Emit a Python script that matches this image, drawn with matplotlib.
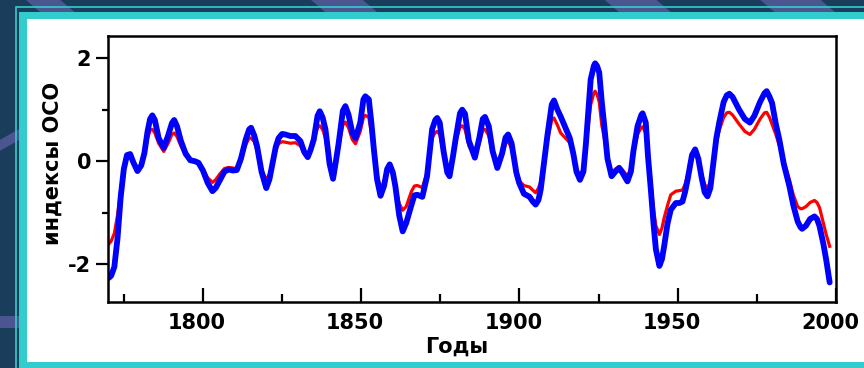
import matplotlib
matplotlib.use("Agg")
import matplotlib.pyplot as plt
import matplotlib.transforms as mtransforms
from matplotlib.patches import Rectangle, Polygon
from matplotlib.ticker import MultipleLocator

# values
years = [1770.3, 1771, 1772, 1773, 1774, 1775, 1776, 1777, 1778, 1779.3,
         1780.5, 1781.5, 1782.5, 1783.3, 1784.0, 1784.8, 1786, 1787.6, 1789, 1790.2,
         1790.9, 1791.8, 1793, 1794.5, 1796, 1797.5, 1798.6, 1800, 1801.5, 1803,
         1804, 1805.4, 1806.8, 1808.1, 1809.5, 1810.7, 1812, 1813.5, 1814.6, 1815.2,
         1816.2, 1817.1, 1818.5, 1820.0, 1821, 1821.8, 1823, 1823.9, 1825, 1826,
         1827.6, 1829.2, 1830.8, 1832, 1833.1, 1834, 1835.0, 1836.2, 1836.9, 1837.8,
         1838.7, 1840, 1841.1, 1842, 1842.9, 1844.2, 1845.0, 1846, 1847.2, 1848.2,
         1849.7, 1850.7, 1851.3, 1852.4, 1853.2, 1854.0, 1855, 1856.1, 1857.2, 1858.2,
         1859.0, 1860, 1860.8, 1862, 1863.1, 1864.2, 1865.9, 1866.8, 1867.7, 1869.3,
         1870.8, 1872.4, 1873.4, 1874.0, 1874.8, 1876, 1877.2, 1877.9, 1879, 1879.8,
         1881.2, 1881.9, 1882.8, 1884, 1885.9, 1887.3, 1888.4, 1889.1, 1890.3, 1891.5,
         1893.0, 1894.5, 1895.6, 1896.4, 1897.5, 1899, 1899.9, 1901.4, 1903.2, 1904.2,
         1905.1, 1906, 1906.7, 1908, 1908.8, 1910.2, 1910.9, 1912, 1913.0, 1914.5,
         1915.9, 1917, 1918, 1919.1, 1920.2, 1921, 1922.5, 1923.5, 1923.9, 1924.5,
         1925.2, 1926, 1926.8, 1927.8, 1929.1, 1930.3, 1931.5, 1932.6, 1934.1, 1935.2,
         1936, 1937.3, 1938.5, 1938.9, 1939.9, 1940.6, 1941.5, 1942.4, 1943.1, 1944.2,
         1945, 1945.7, 1946.8, 1947.8, 1949.4, 1950.5, 1951.5, 1952.3, 1953.1, 1954.5,
         1955.5, 1956.5, 1957.5, 1958.5, 1959.4, 1960.3, 1961.3, 1962.2, 1963.1, 1964.5,
         1965.5, 1966.3, 1967.3, 1969.4, 1971.2, 1972.8, 1974.2, 1976, 1977.4, 1978.1,
         1979, 1979.8, 1981, 1982.1, 1983.5, 1985.3, 1986.5, 1987.9, 1988.8, 1989.3,
         1990.5, 1991.8, 1993.2, 1994, 1994.8, 1996, 1996.9, 1998.0]

oso_red = [-1.60, -1.55, -1.40, -1.05, -0.55, -0.15, 0.10, 0.12, -0.02, -0.18,
           -0.10, 0.14, 0.45, 0.60, 0.62, 0.55, 0.35, 0.19, 0.35, 0.52,
           0.55, 0.48, 0.30, 0.12, 0.02, 0.00, -0.02, -0.15, -0.32, -0.41,
           -0.36, -0.24, -0.14, -0.12, -0.13, -0.15, 0.05, 0.32, 0.45, 0.45,
           0.38, 0.20, -0.15, -0.36, -0.25, -0.08, 0.22, 0.34, 0.38, 0.37,
           0.35, 0.36, 0.30, 0.15, 0.07, 0.20, 0.40, 0.65, 0.69, 0.62,
           0.45, -0.05, -0.26, -0.05, 0.30, 0.70, 0.76, 0.65, 0.42, 0.34,
           0.58, 0.85, 0.89, 0.85, 0.55, 0.18, -0.25, -0.52, -0.40, -0.15,
           -0.08, -0.25, -0.50, -0.82, -0.95, -0.88, -0.58, -0.48, -0.47, -0.51,
           -0.22, 0.45, 0.56, 0.58, 0.52, 0.15, -0.12, -0.16, 0.10, 0.38,
           0.66, 0.69, 0.62, 0.30, 0.08, 0.35, 0.60, 0.62, 0.50, 0.15,
           -0.10, 0.10, 0.35, 0.39, 0.25, -0.20, -0.38, -0.47, -0.50, -0.56,
           -0.61, -0.52, -0.40, 0.10, 0.40, 0.80, 0.84, 0.70, 0.55, 0.45,
           0.36, 0.15, -0.15, -0.26, -0.15, 0.30, 1.10, 1.32, 1.36, 1.30,
           1.15, 0.70, 0.45, 0.05, -0.23, -0.15, -0.10, -0.17, -0.29, -0.15,
           0.15, 0.52, 0.66, 0.67, 0.55, 0.10, -0.40, -0.95, -1.25, -1.42,
           -1.30, -1.10, -0.85, -0.65, -0.58, -0.57, -0.56, -0.45, -0.28, 0.10,
           0.20, 0.05, -0.25, -0.45, -0.52, -0.40, -0.05, 0.35, 0.60, 0.85,
           0.94, 0.95, 0.90, 0.72, 0.58, 0.52, 0.62, 0.82, 0.94, 0.95,
           0.85, 0.72, 0.52, 0.30, 0.00, -0.36, -0.65, -0.88, -0.92, -0.92,
           -0.88, -0.80, -0.76, -0.80, -0.90, -1.20, -1.42, -1.65]

oso_blue = [-2.26, -2.22, -2.05, -1.50, -0.70, -0.15, 0.12, 0.14, -0.02, -0.19,
            -0.08, 0.16, 0.58, 0.82, 0.89, 0.80, 0.45, 0.26, 0.50, 0.74,
            0.80, 0.68, 0.40, 0.15, 0.02, 0.00, -0.03, -0.18, -0.42, -0.58,
            -0.52, -0.36, -0.20, -0.16, -0.18, -0.17, 0.05, 0.42, 0.62, 0.65,
            0.50, 0.29, -0.20, -0.52, -0.35, -0.10, 0.28, 0.45, 0.53, 0.52,
            0.49, 0.49, 0.39, 0.18, 0.08, 0.22, 0.42, 0.88, 0.97, 0.85,
            0.62, -0.05, -0.34, 0.00, 0.36, 0.98, 1.07, 0.90, 0.55, 0.45,
            0.75, 1.20, 1.26, 1.20, 0.75, 0.23, -0.35, -0.67, -0.48, -0.15,
            -0.06, -0.22, -0.49, -1.05, -1.36, -1.20, -0.84, -0.66, -0.65, -0.69,
            -0.29, 0.62, 0.80, 0.84, 0.75, 0.20, -0.22, -0.29, 0.10, 0.42,
            0.93, 1.00, 0.92, 0.40, 0.07, 0.45, 0.82, 0.86, 0.68, 0.20,
            -0.13, 0.15, 0.46, 0.52, 0.35, -0.22, -0.42, -0.63, -0.69, -0.78,
            -0.84, -0.75, -0.55, 0.10, 0.49, 1.10, 1.18, 1.00, 0.87, 0.65,
            0.45, 0.15, -0.20, -0.36, -0.20, 0.35, 1.59, 1.85, 1.90, 1.85,
            1.72, 1.15, 0.68, 0.05, -0.29, -0.20, -0.13, -0.23, -0.39, -0.20,
            0.20, 0.68, 0.90, 0.93, 0.75, 0.10, -0.55, -1.25, -1.71, -2.03,
            -1.90, -1.65, -1.20, -0.94, -0.81, -0.81, -0.78, -0.60, -0.36, 0.12,
            0.23, 0.05, -0.30, -0.60, -0.68, -0.52, 0.00, 0.45, 0.75, 1.15,
            1.28, 1.31, 1.25, 1.00, 0.82, 0.75, 0.88, 1.15, 1.32, 1.36,
            1.25, 1.13, 0.72, 0.42, -0.05, -0.49, -0.85, -1.17, -1.28, -1.31,
            -1.25, -1.12, -1.07, -1.12, -1.26, -1.60, -1.91, -2.35]

plt.rcParams['font.family'] = ['DejaVu Sans']
plt.rcParams['font.weight'] = 'bold'
plt.rcParams['axes.unicode_minus'] = False

W, H = 864, 368
fig = plt.figure(figsize=(W / 100, H / 100), dpi=100, facecolor='#1a3d5c')

# slide-like background: dark stripes, teal frame and white panel
stripes = [[(0, 0.14), (0.03, 0.14), (0.03, 0.11), (0, 0.11)],
           [(0, 0.62), (0.03, 0.66), (0.03, 0.63), (0, 0.59)],
           [(0.03, 1.0), (0.07, 1.0), (0.09, 0.96), (0.05, 0.96)],
           [(0.36, 1.0), (0.42, 1.0), (0.44, 0.96), (0.38, 0.96)],
           [(0.70, 1.0), (0.76, 1.0), (0.78, 0.96), (0.72, 0.96)],
           [(0.88, 1.0), (0.95, 1.0), (0.97, 0.96), (0.90, 0.96)]]
for s in stripes:
    fig.patches.append(Polygon(s, closed=True, transform=fig.transFigure,
                               facecolor='#4b5590', edgecolor='none', zorder=-5))
fig.patches.append(Rectangle((16 / W, -0.1), 1.0, 1.1 - 7.5 / H, transform=fig.transFigure,
                             facecolor='none', edgecolor='#33cccc', lw=1.2, zorder=-4))
fig.patches.append(Rectangle((19 / W, 0), 1.0, 1 - 12 / H, transform=fig.transFigure,
                             facecolor='#33cccc', edgecolor='none', zorder=-3))
fig.patches.append(Rectangle((27 / W, 6 / H), 1.0, (362 - 19) / H, transform=fig.transFigure,
                             facecolor='white', edgecolor='none', zorder=-2))

ax = fig.add_axes([108 / W, 1 - 302 / H, (836 - 108) / W, (302 - 36) / H])
ax.set_zorder(5)
ax.set_facecolor('white')
ax.plot(years, oso_red, color='#ff0000', lw=2.3, solid_joinstyle='round')
ax.plot(years, oso_blue, color='#0000ff', lw=4.2, solid_joinstyle='round',
        solid_capstyle='round')

ax.set_xlim(1770, 2000)
ax.set_ylim(-2.73, 2.43)
ax.xaxis.set_major_locator(MultipleLocator(50))
ax.xaxis.set_minor_locator(MultipleLocator(25))
ax.yaxis.set_major_locator(MultipleLocator(2))
ax.yaxis.set_minor_locator(MultipleLocator(1))

ax.tick_params(axis='x', which='major', direction='in', length=10, width=1.6,
               labelsize=15, pad=8)
ax.tick_params(axis='x', which='minor', direction='in', length=6, width=1.6)
ax.tick_params(axis='y', which='major', direction='out', length=9, width=1.6,
               labelsize=15, pad=3)
ax.tick_params(axis='y', which='minor', direction='out', length=4.5, width=1.6)
for sp in ax.spines.values():
    sp.set_linewidth(1.8)

# year labels sit a little left of their ticks in the original
shift = mtransforms.ScaledTranslation(-6 / 100, 0, fig.dpi_scale_trans)
for lab in ax.get_xticklabels():
    lab.set_transform(lab.get_transform() + shift)

ax.set_xlabel('Годы', fontsize=15, fontweight='bold')
ax.set_ylabel('индексы ОСО', fontsize=15, fontweight='bold')
ax.xaxis.set_label_coords(0.479, -0.13)
ax.yaxis.set_label_coords(-0.062, 0.52)

fig.savefig('out.png', dpi=100, facecolor=fig.get_facecolor())
